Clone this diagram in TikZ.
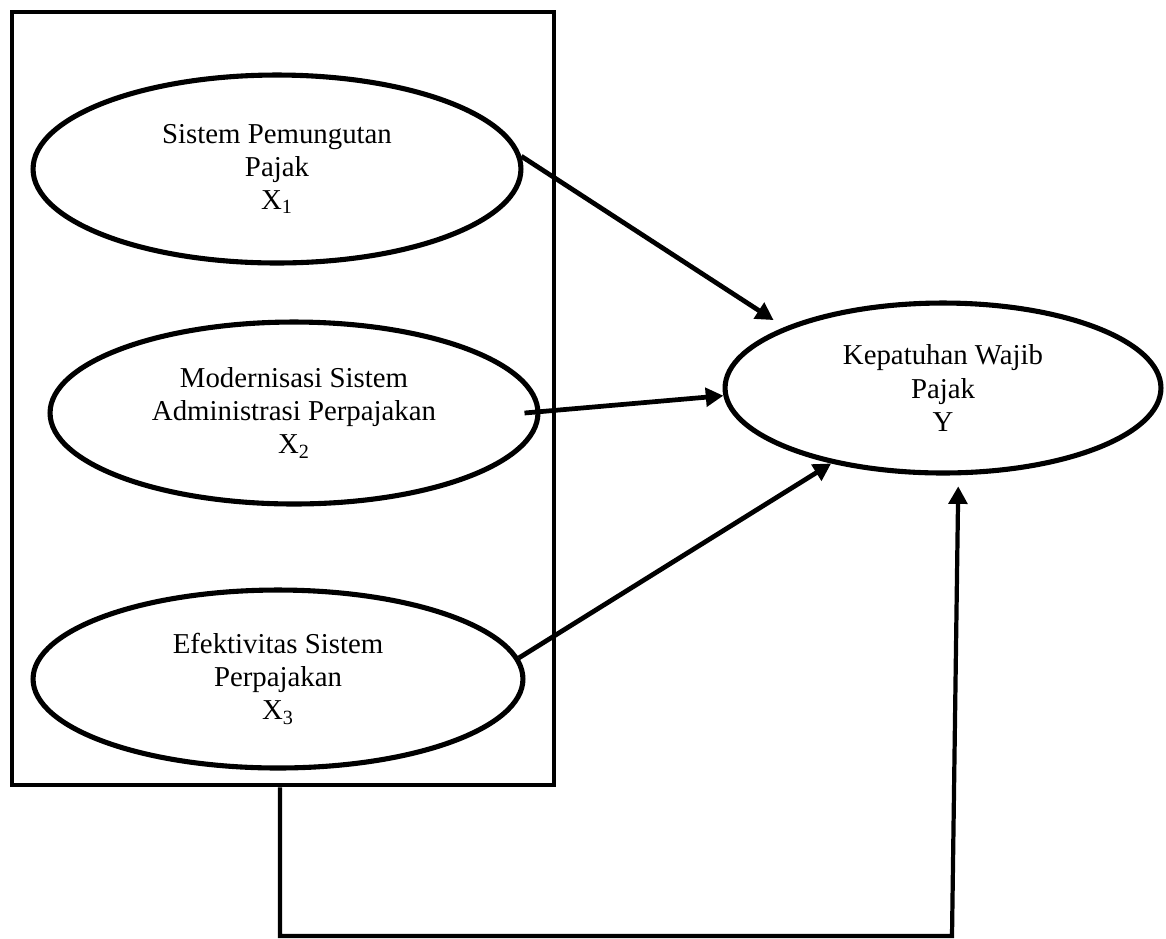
\documentclass[tikz,border=0pt]{standalone}
\usepackage{fontspec}
\setmainfont{Liberation Serif}
\usepackage{tikz}
\usetikzlibrary{shapes.geometric, arrows.meta, positioning}

\begin{document}
\begin{tikzpicture}[x=0.02cm, y=-0.02cm,
  var/.style={draw, ellipse, line width=2.9pt, inner sep=0pt, align=center,
              font=\fontsize{16.4}{18.8}\selectfont},
  group/.style={draw, line width=2.7pt, inner sep=0pt},
  arrow/.style={-{Triangle[length=10pt, width=10.5pt]}, line width=2.7pt}
]
  \useasboundingbox (0,0) rectangle (1166,938);

  % independent variables inside one frame
  \node[group, minimum width=10.84cm, minimum height=15.46cm] (grp) at (283,398.5) {};
  \node[var, minimum width=9.76cm, minimum height=3.76cm] (X1) at (277,169)
    {Sistem Pemungutan\\Pajak\\X\textsubscript{1}};
  \node[var, minimum width=9.76cm, minimum height=3.64cm] (X2) at (294,413)
    {Modernisasi Sistem\\Administrasi Perpajakan\\X\textsubscript{2}};
  \node[var, minimum width=9.8cm, minimum height=3.56cm] (X3) at (278,679)
    {Efektivitas Sistem\\Perpajakan\\X\textsubscript{3}};
  \node[var, minimum width=8.72cm, minimum height=3.4cm] (Y) at (943,388)
    {Kepatuhan Wajib\\Pajak\\Y};

  \draw[arrow, shorten >=0.26cm] (X1.3) -- (Y.159);
  \draw[arrow] ([xshift=-0.32cm]X2.east) -- (Y.182);
  \draw[arrow] (X3.5) -- (Y.214);

  % simultaneous effect
  \coordinate (turn) at (952,936);
  \draw[arrow, line width=2.4pt, shorten >=0.22cm] ([xshift=-0.06cm]grp.south) |- (turn) -- (Y.280);
\end{tikzpicture}
\end{document}
